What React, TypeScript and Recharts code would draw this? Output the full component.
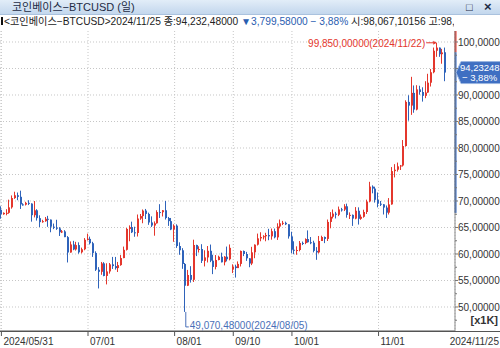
import React from "react";
import {
  ComposedChart,
  Bar,
  XAxis,
  YAxis,
  CartesianGrid,
  ReferenceDot,
  ReferenceLine,
  ReferenceArea,
} from "recharts";

const FONT = '"Liberation Sans", "Noto Sans CJK KR", sans-serif';
const RED = "#e4372d";
const BLUE = "#2f63ba";
const NOTE_BLUE = "#4a70b8";
const PAD_RIGHT = 8;

// daily candles, coinbase BTCUSD (gap 08/22 ~ 09/09 in the source feed)
const dates = [
  "05/31",
  "06/01", "06/02", "06/03", "06/04", "06/05", "06/06", "06/07", "06/08", "06/09", "06/10",
  "06/11", "06/12", "06/13", "06/14", "06/15", "06/16", "06/17", "06/18", "06/19", "06/20",
  "06/21", "06/22", "06/23", "06/24", "06/25", "06/26", "06/27", "06/28", "06/29", "06/30",
  "07/01", "07/02", "07/03", "07/04", "07/05", "07/06", "07/07", "07/08", "07/09", "07/10",
  "07/11", "07/12", "07/13", "07/14", "07/15", "07/16", "07/17", "07/18", "07/19", "07/20",
  "07/21", "07/22", "07/23", "07/24", "07/25", "07/26", "07/27", "07/28", "07/29", "07/30", "07/31",
  "08/01", "08/02", "08/03", "08/04", "08/05", "08/06", "08/07", "08/08", "08/09", "08/10",
  "08/11", "08/12", "08/13", "08/14", "08/15", "08/16", "08/17", "08/18", "08/19", "08/20", "08/21",
  "09/10", "09/11", "09/12", "09/13", "09/14", "09/15", "09/16", "09/17", "09/18", "09/19", "09/20",
  "09/21", "09/22", "09/23", "09/24", "09/25", "09/26", "09/27", "09/28", "09/29", "09/30",
  "10/01", "10/02", "10/03", "10/04", "10/05", "10/06", "10/07", "10/08", "10/09", "10/10",
  "10/11", "10/12", "10/13", "10/14", "10/15", "10/16", "10/17", "10/18", "10/19", "10/20",
  "10/21", "10/22", "10/23", "10/24", "10/25", "10/26", "10/27", "10/28", "10/29", "10/30", "10/31",
  "11/01", "11/02", "11/03", "11/04", "11/05", "11/06", "11/07", "11/08", "11/09", "11/10",
  "11/11", "11/12", "11/13", "11/14", "11/15", "11/16", "11/17", "11/18", "11/19", "11/20",
  "11/21", "11/22", "11/23", "11/24", "11/25",
];

const opens = [
  68350, 67500, 67760, 67770, 68800, 70550, 71080, 70790, 69360, 69310,
  69650, 69510, 67320, 68240, 66760, 66010, 66190, 66640, 66490, 65150,
  64960, 64840, 64100, 64260, 63180, 60280, 61800, 60860, 61680, 60320,
  60890, 62680, 62850, 62030, 60200, 57040, 56640, 58230, 55860, 56710,
  58050, 57720, 57340, 57900, 59230, 60790, 64730, 65070, 64090, 63970,
  66690, 67150, 68190, 67560, 65950, 65370, 65790, 67910, 67880, 68250,
  66780, 66200, 64620, 65350, 61500, 60700, 58120, 54020, 56040, 55130,
  61700, 60880, 60940, 58710, 59350, 60600, 58740, 57560, 58870, 59480,
  58440, 59490, 59010,
  57050, 57650, 57340, 58130, 60570, 60000, 59180,
  58200, 60310, 61760, 62950, 63200, 63350, 63580, 63330, 64300, 63140,
  65180, 65790, 65880, 65600, 63330, 60800, 60650, 60750, 62090, 62060,
  62820, 62220, 62130, 60590, 60300, 62450, 63200, 62850, 66050, 67030,
  67620, 67400, 68420, 68370, 69000, 67370, 67380, 66680, 68160, 66640,
  67020, 67930, 69900, 72720, 72340, 70220, 69490, 69370, 68760, 67800,
  69360, 75640, 75900, 76540, 76700, 80370, 88700, 88000, 90400, 87250,
  91060, 90560, 89850, 90470, 92320, 94290, 98350, 98940, 97700, 98067,
];

const highs = [
  69000, 67850, 68450, 70250, 71050, 71750, 71600, 71950, 69580, 69850,
  70150, 69560, 69990, 68450, 67300, 66450, 66980, 67200, 66500, 65740,
  66460, 65070, 64520, 64500, 63380, 62370, 62480, 62300, 62200, 61200,
  63000, 63840, 63280, 62300, 60500, 57520, 58500, 58460, 58250, 58300,
  59450, 59450, 58500, 59800, 61400, 64900, 65400, 66100, 65150, 67450,
  67550, 68400, 68500, 67800, 67100, 66150, 68250, 69400, 68300, 70000,
  66990, 66800, 65600, 65600, 62200, 61100, 58300, 57000, 57700, 62700,
  61750, 61450, 61850, 60700, 61500, 61780, 59850, 59800, 59680, 60250,
  59600, 61400, 61800,
  58050, 57980, 58600, 60650, 60650, 60400, 59200,
  61350, 61800, 63850, 64100, 63550, 64000, 64750, 64800, 64800, 65800,
  66500, 66250, 66100, 65600, 64200, 62400, 61450, 62450, 62350, 62950,
  64450, 63200, 62500, 61300, 63400, 63450, 63300, 66500, 67900, 68400,
  67950, 68950, 68700, 69400, 69500, 67850, 67450, 68850, 68800, 67450,
  68350, 70250, 73620, 72950, 72700, 71600, 70000, 69400, 69150, 70550,
  76400, 76950, 77250, 76800, 81500, 89000, 89950, 93430, 91800, 91850,
  91750, 91450, 92600, 94000, 94900, 98950, 99850, 98950, 98700, 98950,
];

const lows = [
  66650, 67400, 67300, 67600, 68550, 70400, 70150, 68500, 69120, 69150,
  69230, 66100, 66900, 66300, 65080, 65900, 66080, 65130, 64100, 64690,
  64550, 63400, 63950, 63180, 58400, 60250, 60720, 60640, 60050, 60100,
  60700, 62550, 61800, 59450, 56800, 53500, 56080, 55800, 54260, 56300,
  57180, 57050, 56600, 57780, 59200, 60650, 62400, 63950, 63250, 63300,
  66450, 65800, 66600, 65500, 65100, 63450, 65730, 66800, 67080, 66500,
  65300, 64500, 62300, 61150, 59850, 57200, 49070, 53950, 54600, 54720,
  59600, 60270, 58300, 57650, 58400, 58460, 56200, 57100, 58800, 58420,
  57850, 58600, 58800,
  56400, 55550, 57350, 57650, 59600, 58700, 57500,
  57900, 59200, 61600, 62400, 62750, 62400, 62600, 62700, 62950, 62650,
  64850, 65450, 65450, 62900, 60150, 59950, 59850, 60500, 61680, 61850,
  62150, 61850, 60300, 58900, 60100, 62450, 62050, 62450, 64850, 66700,
  66700, 67150, 68000, 68100, 66850, 66600, 65300, 66550, 65550, 66450,
  66850, 67550, 69750, 71450, 69700, 68800, 69050, 67450, 66800, 67450,
  69300, 74450, 75550, 75850, 76500, 80250, 85150, 86250, 86650, 87100,
  90050, 88750, 89400, 90400, 91600, 94100, 97200, 97200, 95900, 92600,
];

const closes = [
  67500, 67760, 67770, 68800, 70550, 71080, 70790, 69360, 69310, 69650,
  69510, 67320, 68240, 66760, 66010, 66190, 66640, 66490, 65150, 64960,
  64840, 64100, 64260, 63180, 60280, 61800, 60860, 61680, 60320, 60890,
  62680, 62850, 62030, 60200, 57040, 56640, 58230, 55860, 56710, 58050,
  57720, 57340, 57900, 59230, 60790, 64730, 65070, 64090, 63970, 66690,
  67150, 68190, 67560, 65950, 65370, 65790, 67910, 67880, 68250, 66780,
  66200, 64620, 65350, 61500, 60700, 58120, 54020, 56040, 55130, 61700,
  60880, 60940, 58710, 59350, 60600, 58740, 57560, 58870, 59480, 58440,
  59490, 59010, 61160,
  57650, 57340, 58130, 60570, 60000, 59180, 58200,
  60310, 61760, 62950, 63200, 63350, 63580, 63330, 64300, 63140, 65180,
  65790, 65880, 65600, 63330, 60800, 60650, 60750, 62090, 62060, 62820,
  62220, 62130, 60590, 60300, 62450, 63200, 62850, 66050, 67030, 67620,
  67400, 68420, 68370, 69000, 67370, 67380, 66680, 68160, 66640, 67020,
  67930, 69900, 72720, 72340, 70220, 69490, 69370, 68760, 67800, 69360,
  75640, 75900, 76540, 76700, 80370, 88700, 88000, 90400, 87250, 91060,
  90560, 89850, 90470, 92320, 94290, 98350, 98940, 97700, 98030, 94232,
];

const xTicks = ["05/31", "07/01", "08/01", "09/10", "10/01", "11/01"];
const yTicks = [
  47500, 50000, 52500, 55000, 57500, 60000, 62500, 65000, 67500, 70000, 72500,
  75000, 77500, 80000, 82500, 85000, 87500, 90000, 92500, 95000, 97500, 100000,
];
const gridValues = [50000, 55000, 60000, 65000, 70000, 75000, 80000, 85000, 90000, 95000, 100000];
// 95,00000 sits under the last-price tag
const hiddenTickLabels = [95000];

const Y_MIN = 45470;
const Y_MAX = 102075;

const hiPoint = { date: "11/22", value: 99850, text: "99,850,00000(2024/11/22)" };
const loPoint = { date: "08/05", value: 49070.48, text: "49,070,48000(2024/08/05)" };
const lastPrice = { value: 94232.48, text: "94,23248", pct: "− 3,88%" };
const rangeTop = 98067;
const rangeBottom = 67750;

const data = dates.map((d, i) => ({
  date: d,
  open: opens[i],
  high: highs[i],
  low: lows[i],
  close: closes[i],
  range: [lows[i], highs[i]],
}));

function Candle(props: any) {
  const { x, y, width, height, payload } = props;
  if (x == null || y == null) return null;
  const top = Math.min(y, y + height);
  const h = Math.abs(height);
  const { open, close, high, low } = payload;
  const k = h / (high - low || 1);
  const yOf = (v: number) => top + (high - v) * k;
  const color = close >= open ? RED : BLUE;
  const left = Math.round(x);
  const bodyTop = yOf(Math.max(open, close));
  const bodyH = Math.max(1, Math.abs(yOf(open) - yOf(close)));
  return (
    <g>
      <line x1={left + 0.5} x2={left + 0.5} y1={top} y2={top + h} stroke={color} strokeWidth={1} />
      <rect x={left} y={bodyTop} width={Math.max(2, width)} height={bodyH} fill={color} />
    </g>
  );
}

function XTick(props: any) {
  const { x, y, payload } = props;
  const label = payload.value === "05/31" ? "2024/05/31" : payload.value;
  return (
    <g>
      <line x1={x} x2={x} y1={y} y2={y + 5} stroke="#555" />
      <text x={x + 2} y={y + 14} fontSize={10} fill="#333" fontFamily={FONT}>
        {label}
      </text>
    </g>
  );
}

function YTick(props: any) {
  const { x, y, payload } = props;
  const v = payload.value;
  const major = v % 5000 === 0;
  const showText = major && !hiddenTickLabels.includes(v);
  return (
    <g>
      <line x1={x} x2={x + (major ? 3 : 2)} y1={y} y2={y} stroke="#777" />
      {showText && (
        <text x={x + 3} y={y + 4} fontSize={10} fill="#333" fontFamily={FONT}>
          {`${v / 1000},00000`}
        </text>
      )}
    </g>
  );
}

const renderHigh = (p: any) => {
  const vb = p.viewBox;
  const cx = vb.x + vb.width / 2;
  const cy = vb.y + vb.height / 2;
  return (
    <g>
      <text x={cx - 12} y={cy + 4} textAnchor="end" fontSize={10} fill={RED} fontFamily={FONT}>
        {hiPoint.text}
      </text>
      <line x1={cx - 11} x2={cx - 1} y1={cy} y2={cy} stroke={RED} />
      <path d={`M${cx - 1},${cy} l-3,-2 l0,4 z`} fill={RED} />
    </g>
  );
};

const renderLow = (p: any) => {
  const vb = p.viewBox;
  const cx = vb.x + vb.width / 2;
  const cy = vb.y + vb.height / 2;
  return (
    <g>
      <line x1={cx} x2={cx} y1={cy} y2={cy + 15} stroke={NOTE_BLUE} />
      <line x1={cx} x2={cx + 3} y1={cy + 15} y2={cy + 15} stroke={NOTE_BLUE} />
      <text x={cx + 4} y={cy + 17} fontSize={10} fill={NOTE_BLUE} fontFamily={FONT}>
        {loPoint.text}
      </text>
    </g>
  );
};

const renderTag = (p: any) => {
  const vb = p.viewBox;
  const r = vb.x + vb.width;
  const cy = vb.y;
  return (
    <g>
      <path
        d={`M${r + 1},${cy} L${r + 6},${cy - 11} L501,${cy - 11} L501,${cy + 11} L${r + 6},${cy + 11} Z`}
        fill="#3f6fc2"
        stroke="#9ab5e0"
      />
      <text x={r + 5} y={cy - 2} fontSize={9.5} fill="#fff" fontFamily={FONT}>
        {lastPrice.text}
      </text>
      <text x={r + 7} y={cy + 8} fontSize={9.5} fill="#fff" fontFamily={FONT}>
        {lastPrice.pct}
      </text>
    </g>
  );
};

const edgeLine = (color: string) => (p: any) =>
  (
    <line
      x1={p.x + p.width + PAD_RIGHT + 0.5}
      x2={p.x + p.width + PAD_RIGHT + 0.5}
      y1={p.y}
      y2={p.y + p.height}
      stroke={color}
      strokeWidth={2}
    />
  );

export default function App() {
  return (
    <div
      style={{
        position: "absolute",
        left: 0,
        top: 0,
        width: 500,
        height: 348,
        background: "#fff",
        overflow: "hidden",
        fontFamily: FONT,
      }}
    >
      <div
        style={{
          position: "absolute",
          left: 0,
          top: 0,
          width: 500,
          height: 14,
          background: "linear-gradient(#e2edf8, #c3d7ed)",
          borderBottom: "1px solid #aac2de",
          fontSize: 11,
          lineHeight: "14px",
          color: "#1d2b45",
        }}
      >
        <span style={{ position: "absolute", left: 12 }}>코인베이스−BTCUSD (일)</span>
        <span style={{ position: "absolute", left: 466, fontSize: 11 }}>□</span>
        <span style={{ position: "absolute", left: 484, fontSize: 13, fontWeight: "bold" }}>×</span>
      </div>
      <div
        style={{
          position: "absolute",
          left: 1,
          top: 15,
          width: 453,
          height: 13,
          overflow: "hidden",
          whiteSpace: "nowrap",
          fontSize: 10.2,
          lineHeight: "13px",
          color: "#222",
          zIndex: 2,
        }}
      >
        <span style={{ display: "inline-block", width: 2, height: 8, background: "#111", marginRight: 1 }} />
        <span>{"<코인베이스−BTCUSD>2024/11/25 종:94,232,48000 "}</span>
        <span style={{ color: "#2a5db0" }}>▼3,799,58000 − 3,88%</span>
        <span>{" 시:98,067,10156 고:98,9"}</span>
      </div>
      <div
        style={{
          position: "absolute",
          left: 0,
          top: 331,
          width: 500,
          height: 1,
          background: "#555",
        }}
      />
      <ComposedChart
        width={500}
        height={348}
        data={data}
        margin={{ top: 31, right: 0, bottom: 0, left: 0 }}
        style={{ position: "absolute", left: 0, top: 0 }}
      >
        <CartesianGrid stroke="#c6c6c6" strokeDasharray="1 2" horizontalValues={gridValues} />
        <XAxis
          dataKey="date"
          ticks={xTicks}
          interval={0}
          tick={<XTick />}
          tickLine={false}
          tickSize={0}
          tickMargin={0}
          height={17}
          axisLine={{ stroke: "#555" }}
          padding={{ left: 0, right: PAD_RIGHT }}
          label={(p: any) => {
            const vb = p.viewBox;
            return (
              <text x={499} y={vb.y + 14} textAnchor="end" fontSize={10} fill="#333" fontFamily={FONT}>
                2024/11/25
              </text>
            );
          }}
        />
        <YAxis
          orientation="right"
          width={45}
          domain={[Y_MIN, Y_MAX]}
          allowDataOverflow
          ticks={yTicks}
          interval={0}
          tick={<YTick />}
          tickLine={false}
          tickSize={0}
          tickMargin={0}
          axisLine={{ stroke: "#888" }}
          label={(p: any) => {
            const vb = p.viewBox;
            return (
              <text x={498} y={vb.y + vb.height - 7} textAnchor="end" fontSize={11} fontWeight="bold" fill="#333" fontFamily={FONT}>
                [x1K]
              </text>
            );
          }}
        />
        <ReferenceArea y1={rangeTop} y2={Y_MAX} ifOverflow="visible" shape={edgeLine(RED)} />
        <ReferenceArea y1={rangeBottom} y2={rangeTop} ifOverflow="visible" shape={edgeLine(BLUE)} />
        <Bar dataKey="range" barSize={2} shape={<Candle />} isAnimationActive={false} />
        <ReferenceDot x={hiPoint.date} y={hiPoint.value} r={1} fill="none" stroke="none" label={renderHigh} />
        <ReferenceDot x={loPoint.date} y={loPoint.value} r={1} fill="none" stroke="none" label={renderLow} />
        <ReferenceLine y={lastPrice.value} stroke="none" label={renderTag} />
      </ComposedChart>
    </div>
  );
}
